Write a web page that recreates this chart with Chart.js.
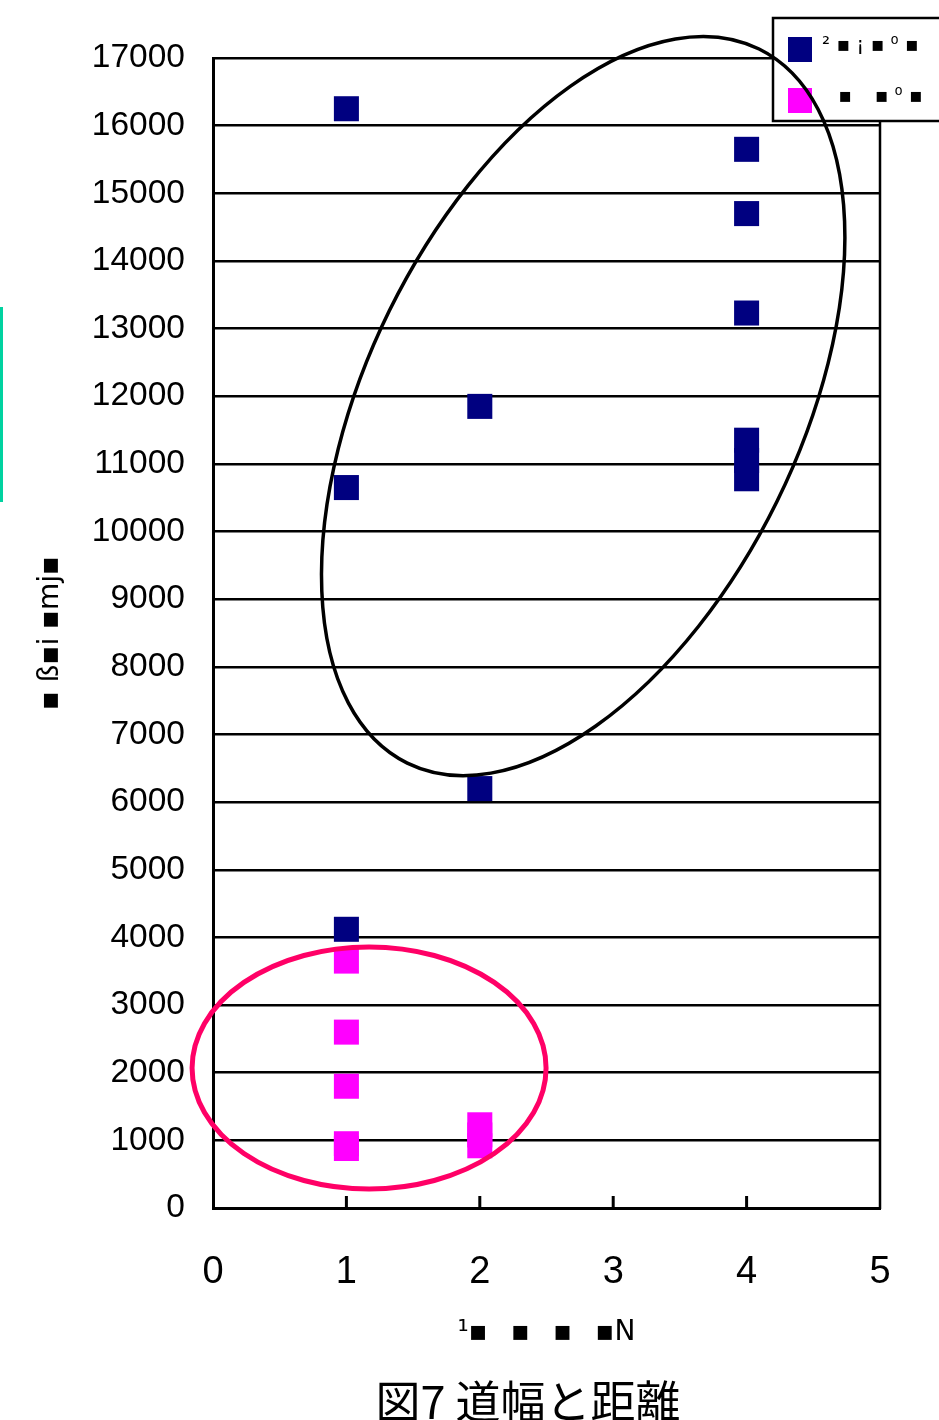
<!DOCTYPE html>
<html>
<head>
<meta charset="utf-8">
<script src="https://cdn.jsdelivr.net/npm/chart.js@4.4.1/dist/chart.umd.min.js"></script>
<style>
body { margin: 0; background: #fff; }
#wrap { position: relative; width: 939px; height: 1420px; overflow: hidden; }
#caption { position: absolute; left: 0; width: 1056px; top: 1377px; text-align: center; font-family: 'Noto Sans CJK JP'; font-size: 45px; line-height: 45px; color: #000; }
#mark { position: absolute; left: 0; top: 307px; width: 3px; height: 195px; background: #00d2a0; }
</style>
</head>
<body>
<div id="wrap">
  <canvas id="scatter-chart"></canvas>
  <div id="mark"></div>
  <div id="caption">図7 道幅と距離</div>
</div>
<script>
// values
var xTicks = [0, 1, 2, 3, 4, 5];
var yMax = 17000;
var yStep = 1000;

var blueLabel = '² ▪ ¡ ▪ ⁰ ▪';
var blueX = [1, 1, 1, 2, 2, 4, 4, 4, 4, 4, 4];
var blueY = [16250, 10650, 4120, 11850, 6200, 15650, 14700, 13230, 11350, 11050, 10780];

var pinkLabel = '\u2002 ▪ \u2002 ▪ ⁰ ▪';
var pinkX = [1, 1, 1, 1, 1, 2, 2, 2];
var pinkY = [3650, 2600, 1800, 950, 880, 1230, 1080, 920];

var xTitle = '¹▪\u2002\u2004▪\u2002\u2004▪\u2002\u2004▪N';
var yTitle = '▪ ß▪i ▪mj▪';

function points(xs, ys) {
    return xs.map(function (x, i) { return { x: x, y: ys[i] }; });
}

// hand drawn rings and the boxed legend
var extras = {
    id: 'extras',
    afterDraw: function (chart) {
        var ctx = chart.ctx, a = chart.chartArea;
        var xs = chart.scales.x, ys = chart.scales.y;
        ctx.save();
        ctx.strokeStyle = '#000';
        ctx.lineWidth = 2.5;
        ctx.beginPath();
        ctx.moveTo(a.right, a.top);
        ctx.lineTo(a.right, a.bottom + 1);
        ctx.stroke();

        ctx.lineWidth = 3;
        xTicks.slice(1, -1).forEach(function (v) {
            var px = xs.getPixelForValue(v);
            ctx.beginPath();
            ctx.moveTo(px, a.bottom);
            ctx.lineTo(px, a.bottom - 12);
            ctx.stroke();
        });

        // legend
        ctx.fillStyle = '#fff';
        ctx.fillRect(773, 18, 200, 103);
        ctx.lineWidth = 2.5;
        ctx.strokeRect(773, 18, 200, 103);
        ctx.font = '20px "DejaVu Sans"';
        ctx.textBaseline = 'middle';
        chart.data.datasets.forEach(function (ds, i) {
            var y = 37 + i * 51;
            ctx.fillStyle = ds.backgroundColor;
            ctx.fillRect(788, y, 24, 25);
            ctx.fillStyle = '#000';
            ctx.fillText(ds.label, 822, y + 9);
        });

        // rings
        chart.options.plugins.extras.rings.forEach(function (r) {
            ctx.strokeStyle = r.color;
            ctx.lineWidth = r.width;
            ctx.beginPath();
            ctx.ellipse(xs.getPixelForValue(r.x), ys.getPixelForValue(r.y), r.rx, r.ry, r.rot, 0, Math.PI * 2);
            ctx.stroke();
        });
        ctx.restore();
    }
};

new Chart(document.getElementById('scatter-chart'), {
    type: 'scatter',
    data: {
        datasets: [{
            label: blueLabel,
            data: points(blueX, blueY),
            backgroundColor: '#000080',
            borderColor: '#000080',
            borderWidth: 0,
            pointStyle: 'rect',
            pointRadius: 17.7,
            pointHoverRadius: 17.7
        }, {
            label: pinkLabel,
            data: points(pinkX, pinkY),
            backgroundColor: '#ff00ff',
            borderColor: '#ff00ff',
            borderWidth: 0,
            pointStyle: 'rect',
            pointRadius: 17.7,
            pointHoverRadius: 17.7
        }]
    },
    options: {
        responsive: true,
        maintainAspectRatio: false,
        animation: false,
        layout: { padding: { top: 58, right: 59, left: 0, bottom: 0 } },
        plugins: {
            legend: { display: false },
            tooltip: { enabled: false },
            extras: {
                rings: [
                    { x: 2.775, y: 11855, rx: 398, ry: 216, rot: -1.113, color: '#000000', width: 3.5 },
                    { x: 1.17, y: 2070, rx: 177, ry: 121, rot: 0, color: '#ff0066', width: 5 }
                ]
            }
        },
        scales: {
            x: {
                type: 'linear',
                min: xTicks[0],
                max: xTicks[xTicks.length - 1],
                afterFit: function (s) { s.height = 212; },
                afterBuildTicks: function (s) { s.ticks = xTicks.map(function (v) { return { value: v }; }); },
                grid: { display: false },
                border: { display: true, color: '#000', width: 3 },
                ticks: { color: '#000', padding: 34, font: { family: 'Liberation Sans', size: 38 } },
                title: { display: true, text: xTitle, color: '#000', padding: { top: 0, bottom: 70 }, font: { family: 'DejaVu Sans', size: 28 } }
            },
            y: {
                min: 0,
                max: yMax,
                afterFit: function (s) { s.width = 213; },
                grid: { color: '#000', lineWidth: 2.5, drawTicks: false },
                border: { display: true, color: '#000', width: 3 },
                ticks: {
                    stepSize: yStep,
                    color: '#000',
                    padding: 28,
                    font: { family: 'Liberation Sans', size: 33.5 },
                    callback: function (v) { return String(v); }
                },
                title: { display: true, text: yTitle, color: '#000', padding: { top: 34, bottom: 0 }, font: { family: 'DejaVu Sans', size: 28 } }
            }
        }
    },
    plugins: [extras]
});
</script>
</body>
</html>
